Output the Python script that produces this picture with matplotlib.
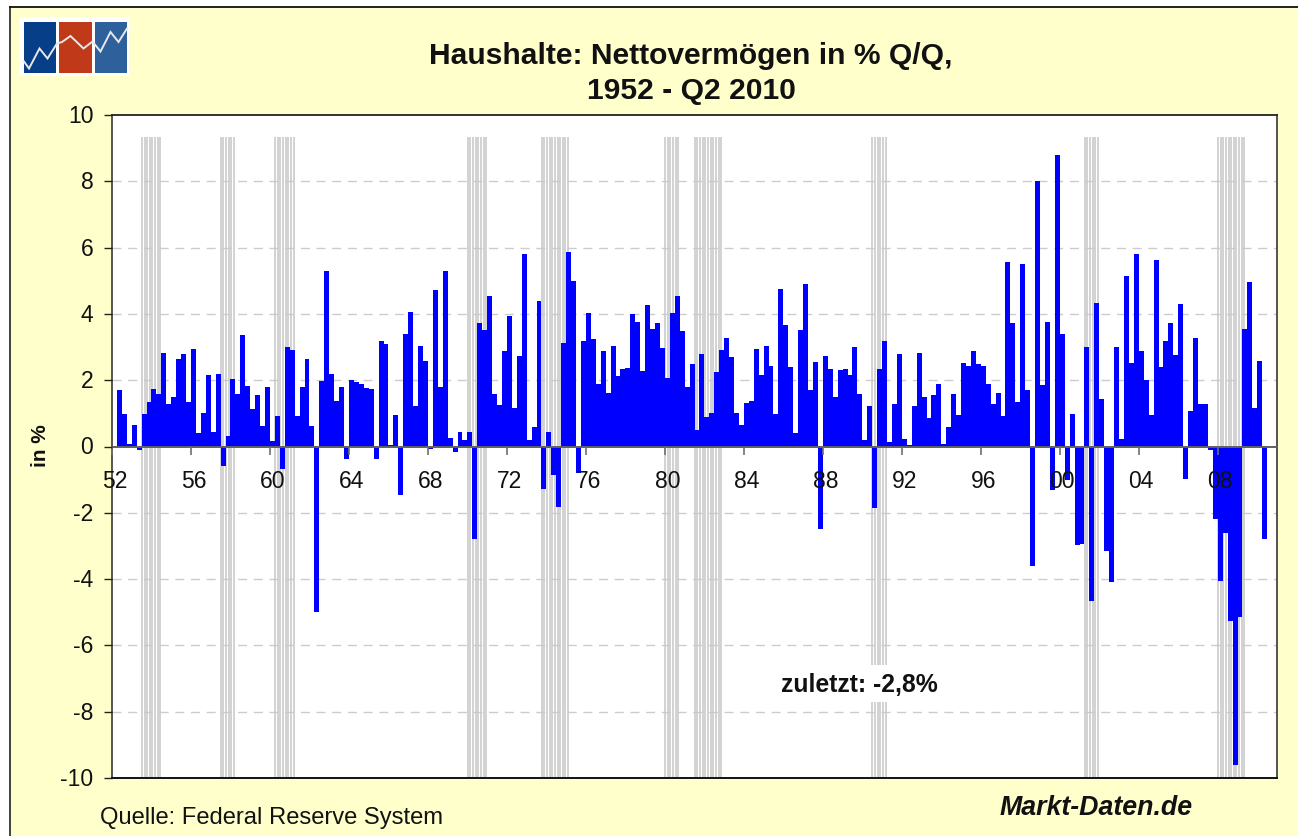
import matplotlib
matplotlib.use("Agg")
import matplotlib.pyplot as plt
from matplotlib.patches import Rectangle
from matplotlib.transforms import ScaledTranslation
import numpy as np

plt.rcParams['font.family'] = ['Liberation Sans', 'DejaVu Sans']
plt.rcParams['axes.unicode_minus'] = False

# Quarterly change, 1952 Q1 onward
values = [
 0.0, 1.71, 0.98, 0.08, 0.65, -0.12, 0.98, 1.35, 1.74, 1.59, 2.82, 1.29, 1.50, 2.64, 2.79, 1.35,
 2.94, 0.41, 1.01, 2.16, 0.44, 2.19, -0.60, 0.32, 2.04, 1.59, 3.37, 1.83, 1.14, 1.56, 0.62, 1.80,
 0.17, 0.92, -0.67, 3.00, 2.91, 0.92, 1.80, 2.64, 0.62, -5.00, 1.98, 5.30, 2.19, 1.38, 1.80, -0.37,
 2.00, 1.95, 1.89, 1.77, 1.74, -0.37, 3.18, 3.10, 0.05, 0.95, -1.46, 3.40, 4.06, 1.23, 3.03, 2.58,
 -0.07, 4.72, 1.80, 5.30, 0.26, -0.16, 0.44, 0.20, 0.44, -2.78, 3.73, 3.52, 4.54, 1.59, 1.26, 2.88,
 3.94, 1.17, 2.73, 5.81, 0.20, 0.59, 4.39, -1.28, 0.44, -0.85, -1.82, 3.13, 5.87, 5.00, -0.79, 3.19,
 4.03, 3.25, 1.89, 2.88, 1.62, 3.03, 2.13, 2.34, 2.37, 4.00, 3.76, 2.28, 4.27, 3.55, 3.73, 2.97,
 2.07, 4.03, 4.54, 3.49, 1.80, 2.49, 0.50, 2.79, 0.89, 1.01, 2.25, 2.91, 3.28, 2.70, 1.01, 0.65,
 1.32, 1.38, 2.94, 2.16, 3.03, 2.43, 0.98, 4.75, 3.67, 2.40, 0.41, 3.52, 4.90, 1.71, 2.55, -2.48,
 2.73, 2.34, 1.50, 2.31, 2.34, 2.16, 3.00, 1.59, 0.20, 1.23, -1.85, 2.34, 3.19, 0.14, 1.29, 2.79,
 0.23, 0.05, 1.23, 2.82, 1.50, 0.86, 1.56, 1.89, 0.08, 0.59, 1.59, 0.95, 2.52, 2.43, 2.88, 2.49,
 2.43, 1.88, 1.28, 1.61, 0.92, 5.56, 3.72, 1.34, 5.50, 1.70, -3.60, 8.00, 1.85, 3.75, -1.30, 8.79,
 3.39, -1.00, 0.98, -2.97, -2.94, 3.00, -4.65, 4.33, 1.43, -3.15, -4.10, 3.00, 0.22, 5.14, 2.52, 5.80,
 2.88, 2.00, 0.95, 5.62, 2.39, 3.18, 3.72, 2.76, 4.30, -0.97, 1.07, 3.27, 1.28, 1.28, -0.12, -2.20,
 -4.07, -2.60, -5.26, -9.60, -5.14, 3.54, 4.96, 1.16, 2.58, -2.78,
]
# Recession spans as (first quarter index, last quarter index)
recession_start = [6, 22, 33, 72, 87, 112, 118, 154, 197, 224]
recession_end   = [9, 24, 36, 75, 92, 114, 123, 156, 199, 229]
year_labels = ['52','56','60','64','68','72','76','80','84','88','92','96','00','04','08']
y_ticks = [10, 8, 6, 4, 2, 0, -2, -4, -6, -8, -10]
title_text = "Haushalte: Nettovermögen in % Q/Q,\n1952 - Q2 2010"
source_text = "Quelle: Federal Reserve System"
brand_text = "Markt-Daten.de"
last_text = "zuletzt: -2,8%"

W, H = 1298, 836
fig = plt.figure(figsize=(W/100, H/100), dpi=100, facecolor='white')

# Overlay in pixel coordinates for frame and logo
bg = fig.add_axes([0, 0, 1, 1], zorder=0)
bg.set_xlim(0, W); bg.set_ylim(H, 0); bg.axis('off')
bg.add_patch(Rectangle((9, 6), W, H, facecolor='#FFFFCC', edgecolor='none'))
bg.plot([9.5, 9.5], [H, 6.5], color='#333333', lw=1.3)
bg.plot([9.5, W], [6.5, 6.5], color='#111111', lw=1.3)
bg.add_patch(Rectangle((19, 17), 110, 59, facecolor='white', edgecolor='none'))
for x0, x1, c in [(24, 56, '#063F87'), (59, 92, '#C03A1A'), (95, 127, '#2E609C')]:
    bg.add_patch(Rectangle((x0, 22), x1-x0, 51, facecolor=c, edgecolor='none'))
logo_x = [24, 29, 39.5, 47.5, 57, 62, 70.5, 83.5, 92.5, 100.5, 110.5, 118.5, 127]
logo_y = [61.5, 68.5, 48.5, 58.5, 43.5, 42, 36, 48.5, 41.5, 51.5, 32, 42, 28.5]
bg.plot(logo_x, logo_y, color='#E8E8E8', lw=1.4, solid_joinstyle='miter')

L, R, T, B = 112, 1277, 115, 778
ax = fig.add_axes([L/W, 1-B/H, (R-L)/W, (B-T)/H], zorder=1, facecolor='white')
x = np.arange(len(values))
ax.set_xlim(-0.5, 235.5)
ax.set_ylim(-10, 10)

ax.hlines([t for t in y_ticks if abs(t) != 10 and t != 0], -0.5, 235.5, colors='#CCCCCC',
          lw=1.0, linestyles=(0, (6.5, 4.8)), zorder=1)

# Recession bands as narrow stripes
for a, b in zip(recession_start, recession_end):
    xs = np.arange(a - 0.45, b + 0.4, 0.535)
    ax.vlines(xs, -10, 9.33, colors='#C9C9C9', lw=1.15, zorder=1.5)

ax.bar(x, values, width=1.0, color='#0000FF', linewidth=0, zorder=2)

ax.set_axisbelow(False)
ax.spines['bottom'].set_position(('data', 0))
ax.spines['bottom'].set_color('#606060')
ax.spines['bottom'].set_linewidth(1.4)
ax.spines['left'].set_color('#555555')
ax.spines['left'].set_linewidth(1.4)
ax.spines['top'].set_color('#222222')
ax.spines['right'].set_color('#444444')
ax.spines['top'].set_linewidth(1.3)
ax.spines['right'].set_linewidth(1.3)
ax.plot([-0.5, 235.5], [-10, -10], color='#111111', lw=1.4, clip_on=False, zorder=3)

ax.set_yticks(y_ticks)
ax.set_xticks(np.arange(len(year_labels)) * 16 - 0.5)
ax.set_xticklabels(year_labels)
ax.tick_params(axis='y', labelsize=16.5, length=5.5, width=1.0, color='#222222', pad=8, labelcolor='#111111')
ax.tick_params(axis='x', labelsize=16.5, length=5.5, width=1.2, color='#707070', pad=11.7, labelcolor='#111111')
off = ScaledTranslation(2.5/100, 0, fig.dpi_scale_trans)
for lab in ax.get_xticklabels():
    lab.set_transform(lab.get_transform() + off)
off_y = ScaledTranslation(0, 1/100, fig.dpi_scale_trans)
for lab in ax.get_yticklabels():
    lab.set_transform(lab.get_transform() + off_y)

bg2 = fig.add_axes([0, 0, 1, 1], zorder=2)
bg2.set_xlim(0, W); bg2.set_ylim(H, 0); bg2.axis('off'); bg2.patch.set_alpha(0)
bg2.text(691, 73.5, title_text, ha='center', va='center', fontsize=21.6, fontweight='bold',
         color='#111111', linespacing=1.36)
bg2.text(41, 446, "in %", rotation=90, ha='center', va='center', fontsize=15, fontweight='bold', color='#111111')
bg2.text(100, 818, source_text, ha='left', va='center', fontsize=17.15, color='#111111')
bg2.text(1000, 808, brand_text, ha='left', va='center', fontsize=19.3, fontweight='bold', style='italic', color='#111111')
bg2.add_patch(Rectangle((775, 665), 170, 37, facecolor='white', edgecolor='none'))
bg2.text(781, 685, last_text, ha='left', va='center', fontsize=17.8, fontweight='bold', color='#111111')

fig.savefig('out.png', dpi=100)
